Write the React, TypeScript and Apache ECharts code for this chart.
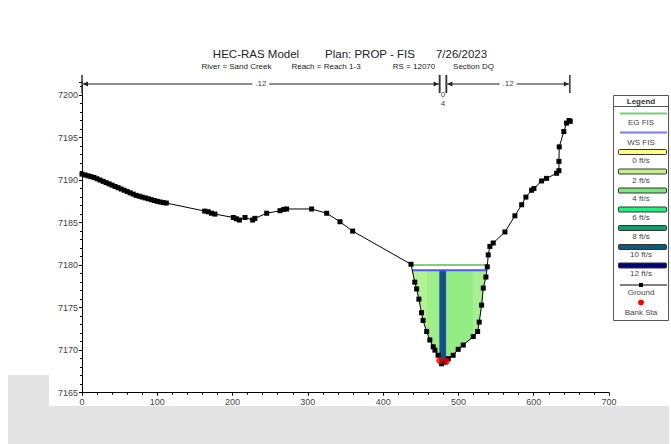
import React, { useEffect, useRef } from 'react';
import * as echarts from 'echarts';

const groundSta = [
  0, 4, 8, 12, 16, 20, 24, 28, 32, 36, 40, 44, 48, 52, 56, 60, 64, 68, 72, 76, 80, 84, 88, 92, 96, 100, 104, 108, 112,
  163, 167.7, 172, 176.6, 201, 205, 209, 216.5, 226.7, 229.7, 245.3, 263, 268, 271.8, 305, 325, 342.6, 359.5,
  437, 442, 444.5, 447.5, 451, 453, 457.8, 462, 466.5, 468.8, 473, 477.7, 482, 486.5, 493, 499.7, 506.4, 519.7,
  525.5, 527.6, 530.8, 533, 536.5, 538.3, 539.6, 541.8, 546.2, 561.8, 575, 584, 589.6, 597.2, 600.3, 610.5,
  617.1, 630.4, 633.5, 633.5, 633.9, 640, 643.6, 647, 648.5,
];
const groundElev = [
  7190.7, 7190.6, 7190.5, 7190.4, 7190.3, 7190.15, 7190.0, 7189.85, 7189.7, 7189.55, 7189.4, 7189.25, 7189.1,
  7188.95, 7188.8, 7188.65, 7188.5, 7188.35, 7188.2, 7188.1, 7188.0, 7187.9, 7187.8, 7187.7, 7187.6, 7187.5,
  7187.42, 7187.35, 7187.3,
  7186.35, 7186.27, 7186.1, 7186.0, 7185.6, 7185.45, 7185.3, 7185.6, 7185.3, 7185.5, 7186.1, 7186.4, 7186.55,
  7186.6, 7186.6, 7186.1, 7185.1, 7184.0,
  7180.1, 7178.0, 7177.2, 7176.0, 7174.4, 7173.5, 7172.2, 7171.2, 7170.4, 7170.0, 7169.4, 7168.4, 7168.6, 7169.0,
  7169.4, 7170.1, 7170.6, 7171.6, 7172.2, 7173.3, 7175.3, 7177.3, 7178.6, 7179.8, 7181.2, 7182.2, 7182.6, 7183.9,
  7185.8, 7187.1, 7188.0, 7188.8, 7189.0, 7189.9, 7190.2, 7190.8, 7191.1, 7192.2, 7193.9, 7195.7, 7196.7, 7197.0,
  7196.9,
];
const bankSta = [475, 484];
const bankElev = [7168.8, 7168.7];
const wsElev = 7179.4;
const egElev = 7180.0;
const nBreaks = [0, 475, 484, 648];
const nLabels = ['.12', '.04', '.12'];
const velBreaksInner = [458, 475, 484, 520];
const velZoneColors = ['#b0f294', '#a0ee8a', '#124f8b', '#94ec84', '#a6f092'];
const legendVelLabels = ['0 ft/s', '2 ft/s', '4 ft/s', '6 ft/s', '8 ft/s', '10 ft/s', '12 ft/s'];
const legendVelColors = ['#ffff80', '#c4f08a', '#80e680', '#22f082', '#10a070', '#0b5a7c', '#000078'];
const xTickLabels = [0, 100, 200, 300, 400, 500, 600, 700];
const yTickLabels = [7165, 7170, 7175, 7180, 7185, 7190, 7195, 7200];

const FONT = '"Liberation Sans", Arial, sans-serif';

function groundAt(s: number) {
  for (let i = 0; i < groundSta.length - 1; i++) {
    const a = groundSta[i], b = groundSta[i + 1];
    if (s >= a && s <= b) {
      const t = b === a ? 0 : (s - a) / (b - a);
      return groundElev[i] + t * (groundElev[i + 1] - groundElev[i]);
    }
  }
  return groundElev[groundElev.length - 1];
}

function crossings(elev: number): [number, number] {
  let iMin = 0;
  groundElev.forEach((e, i) => { if (e < groundElev[iMin]) iMin = i; });
  let left = groundSta[0];
  let right = groundSta[groundSta.length - 1];
  for (let i = iMin; i > 0; i--) {
    if (groundElev[i - 1] >= elev && groundElev[i] < elev) {
      const t = (elev - groundElev[i]) / (groundElev[i - 1] - groundElev[i]);
      left = groundSta[i] + t * (groundSta[i - 1] - groundSta[i]);
      break;
    }
  }
  for (let i = iMin; i < groundSta.length - 1; i++) {
    if (groundElev[i + 1] >= elev && groundElev[i] < elev) {
      const t = (elev - groundElev[i]) / (groundElev[i + 1] - groundElev[i]);
      right = groundSta[i] + t * (groundSta[i + 1] - groundSta[i]);
      break;
    }
  }
  return [left, right];
}

function zonePoly(a: number, b: number) {
  const pts: number[][] = [[a, wsElev], [b, wsElev], [b, groundAt(b)]];
  for (let i = groundSta.length - 1; i >= 0; i--) {
    if (groundSta[i] < b && groundSta[i] > a) pts.push([groundSta[i], groundElev[i]]);
  }
  pts.push([a, groundAt(a)]);
  return pts;
}

export default function App() {
  const ref = useRef<HTMLDivElement>(null);
  useEffect(() => {
    const chart = echarts.init(ref.current!, null, { renderer: 'svg' });
    const [wsL, wsR] = crossings(wsElev);
    const [egL, egR] = crossings(egElev);
    const zb = [wsL, ...velBreaksInner, wsR];
    const zones = zb.slice(0, -1).map((a, i) => ({ pts: zonePoly(a, zb[i + 1]), color: velZoneColors[i] }));
    const bracketElev = 7201.3;

    const legendChildren: any[] = [];
    legendChildren.push({ type: 'rect', shape: { x: 613.5, y: 95.5, width: 55, height: 225 }, style: { fill: '#fff', stroke: '#555', lineWidth: 1 } });
    legendChildren.push({ type: 'text', style: { x: 641, y: 101, text: 'Legend', fontSize: 8, fontWeight: 'bold', fontFamily: FONT, fill: '#333', align: 'center', verticalAlign: 'middle' } });
    legendChildren.push({ type: 'line', shape: { x1: 613.5, y1: 106.5, x2: 668.5, y2: 106.5 }, style: { stroke: '#555', lineWidth: 1 } });
    const lt = (y: number, t: string) => ({ type: 'text', style: { x: 641, y, text: t, fontSize: 8, fontFamily: FONT, fill: '#444', align: 'center', verticalAlign: 'middle' } });
    legendChildren.push({ type: 'line', shape: { x1: 620, y1: 113.5, x2: 667, y2: 113.5 }, style: { stroke: '#78cc78', lineWidth: 2 } });
    legendChildren.push(lt(122.5, 'EG FIS'));
    legendChildren.push({ type: 'line', shape: { x1: 620, y1: 132.5, x2: 667, y2: 132.5 }, style: { stroke: '#7a7aff', lineWidth: 2 } });
    legendChildren.push(lt(142, 'WS FIS'));
    const rectTops = [149.5, 169, 188, 207, 225.5, 244.5, 263];
    const labYs = [160.5, 180, 198.5, 217, 236, 254.5, 273.5];
    legendVelLabels.forEach((l, i) => {
      legendChildren.push({ type: 'rect', shape: { x: 618.5, y: rectTops[i], width: 48, height: 5, r: 1 }, style: { fill: legendVelColors[i], stroke: '#333', lineWidth: 1 } });
      legendChildren.push(lt(labYs[i], l));
    });
    legendChildren.push({ type: 'line', shape: { x1: 620, y1: 285, x2: 667, y2: 285 }, style: { stroke: '#000', lineWidth: 1 } });
    legendChildren.push({ type: 'rect', shape: { x: 639, y: 283, width: 4, height: 4 }, style: { fill: '#000' } });
    legendChildren.push(lt(292.5, 'Ground'));
    legendChildren.push({ type: 'circle', shape: { cx: 641, cy: 302.5, r: 3 }, style: { fill: '#ff0000' } });
    legendChildren.push(lt(312, 'Bank Sta'));

    const titleText = (x: number, y: number, t: string, size: number) => ({
      type: 'text', style: { x, y, text: t, fontSize: size, fontFamily: FONT, fill: '#222', align: 'center', verticalAlign: 'middle' },
    });

    chart.setOption({
      animation: false,
      backgroundColor: '#fff',
      grid: { left: 82, top: 82.25, right: 62, bottom: 51.3, containLabel: false },
      xAxis: {
        type: 'value', min: 0, max: 700, interval: 100,
        axisLine: { onZero: false, lineStyle: { color: '#000', width: 1 } },
        axisTick: { show: true, length: 3, lineStyle: { color: '#000' } },
        minorTick: { show: true, splitNumber: 5, length: 2, lineStyle: { color: '#000' } },
        splitLine: { show: false },
        axisLabel: { fontSize: 9, margin: 5, color: '#444', fontFamily: FONT, formatter: (v: number) => (xTickLabels.includes(v) ? String(v) : '') },
      },
      yAxis: {
        type: 'value', min: 7165, max: 7201.5, interval: 5,
        axisLine: { show: true, onZero: false, lineStyle: { color: '#000', width: 1 } },
        axisTick: { show: true, length: 3, lineStyle: { color: '#000' } },
        minorTick: { show: true, splitNumber: 5, length: 2, lineStyle: { color: '#000' } },
        splitLine: { show: false },
        axisLabel: { fontSize: 9, margin: 4, color: '#444', fontFamily: FONT, formatter: (v: number) => (yTickLabels.includes(v) ? String(v) : '') },
      },
      graphic: [
        { type: 'rect', z: -10, shape: { x: 8, y: 406, width: 661, height: 38 }, style: { fill: '#e3e3e3' } },
        { type: 'rect', z: -10, shape: { x: 8, y: 375, width: 41, height: 31 }, style: { fill: '#e3e3e3' } },
        titleText(256, 54, 'HEC-RAS Model', 11.5),
        titleText(370, 54, 'Plan: PROP - FIS', 11.5),
        titleText(461.5, 54, '7/26/2023', 11.5),
        titleText(236.5, 66, 'River = Sand Creek', 8),
        titleText(326, 66, 'Reach = Reach 1-3', 8),
        titleText(414, 66, 'RS = 12070', 8),
        titleText(473.5, 66, 'Section DQ', 8),
        { type: 'group', children: legendChildren },
      ],
      series: [
        {
          type: 'custom', z: 1, silent: true,
          data: zones.map((z) => [z.pts[0][0], z.pts[0][1]]),
          encode: { x: 0, y: 1 },
          renderItem: (params: any, api: any) => {
            const z = zones[params.dataIndex];
            return { type: 'polygon', shape: { points: z.pts.map((p) => api.coord(p)) }, style: { fill: z.color, stroke: z.color, lineWidth: 0.5 } };
          },
        },
        {
          type: 'line', z: 2, symbol: 'none', data: [[egL, egElev], [egR, egElev]],
          lineStyle: { color: '#82cc82', width: 2 },
        },
        {
          type: 'line', z: 2, symbol: 'none', data: [[wsL, wsElev], [wsR, wsElev]],
          lineStyle: { color: '#4a5cf0', width: 2 },
        },
        {
          type: 'line', z: 3, symbol: 'rect', symbolSize: 5,
          data: groundSta.map((s, i) => [s, groundElev[i]]),
          lineStyle: { color: '#000', width: 1 }, itemStyle: { color: '#000' },
        },
        {
          type: 'scatter', z: 4, symbol: 'circle', symbolSize: 7,
          data: bankSta.map((s, i) => [s, bankElev[i]]),
          itemStyle: { color: '#ff0000' },
        },
        {
          type: 'custom', z: 5, silent: true, clip: false,
          data: nLabels.map((l, i) => [nBreaks[i], nBreaks[i + 1], i]),
          encode: { x: [0, 1] },
          renderItem: (params: any, api: any) => {
            const i = params.dataIndex;
            const p0 = api.coord([nBreaks[i], bracketElev]);
            const p1 = api.coord([nBreaks[i + 1], bracketElev]);
            const y = p0[1];
            const x0 = p0[0], x1 = p1[0];
            const mid = (x0 + x1) / 2;
            const children: any[] = [
              { type: 'line', shape: { x1: x0, y1: y - 9, x2: x0, y2: y + 9 }, style: { stroke: '#333', lineWidth: 1.5 } },
              { type: 'line', shape: { x1: x1, y1: y - 9, x2: x1, y2: y + 9 }, style: { stroke: '#333', lineWidth: 1.5 } },
            ];
            if (x1 - x0 > 20) {
              children.push({ type: 'line', shape: { x1: x0, y1: y, x2: x1, y2: y }, style: { stroke: '#666', lineWidth: 1.5 } });
              children.push({ type: 'polygon', shape: { points: [[x0 + 1, y], [x0 + 6, y - 2.5], [x0 + 6, y + 2.5]] }, style: { fill: '#222' } });
              children.push({ type: 'polygon', shape: { points: [[x1 - 1, y], [x1 - 6, y - 2.5], [x1 - 6, y + 2.5]] }, style: { fill: '#222' } });
              children.push({ type: 'text', style: { x: mid, y, text: nLabels[i], fontSize: 8, fontFamily: FONT, fill: '#444', align: 'center', verticalAlign: 'middle', backgroundColor: '#fff', padding: [0, 3] } });
            } else {
              children.push({ type: 'text', style: { x: mid, y: y + 15, text: nLabels[i].replace('.', '').split('').join('\n'), fontSize: 8, lineHeight: 8.5, fontFamily: FONT, fill: '#444', align: 'center', verticalAlign: 'middle' } });
            }
            return { type: 'group', children };
          },
        },
      ],
    });
    return () => chart.dispose();
  }, []);
  return <div ref={ref} style={{ position: 'fixed', left: 0, top: 0, width: 671, height: 444, background: '#fff' }} />;
}
